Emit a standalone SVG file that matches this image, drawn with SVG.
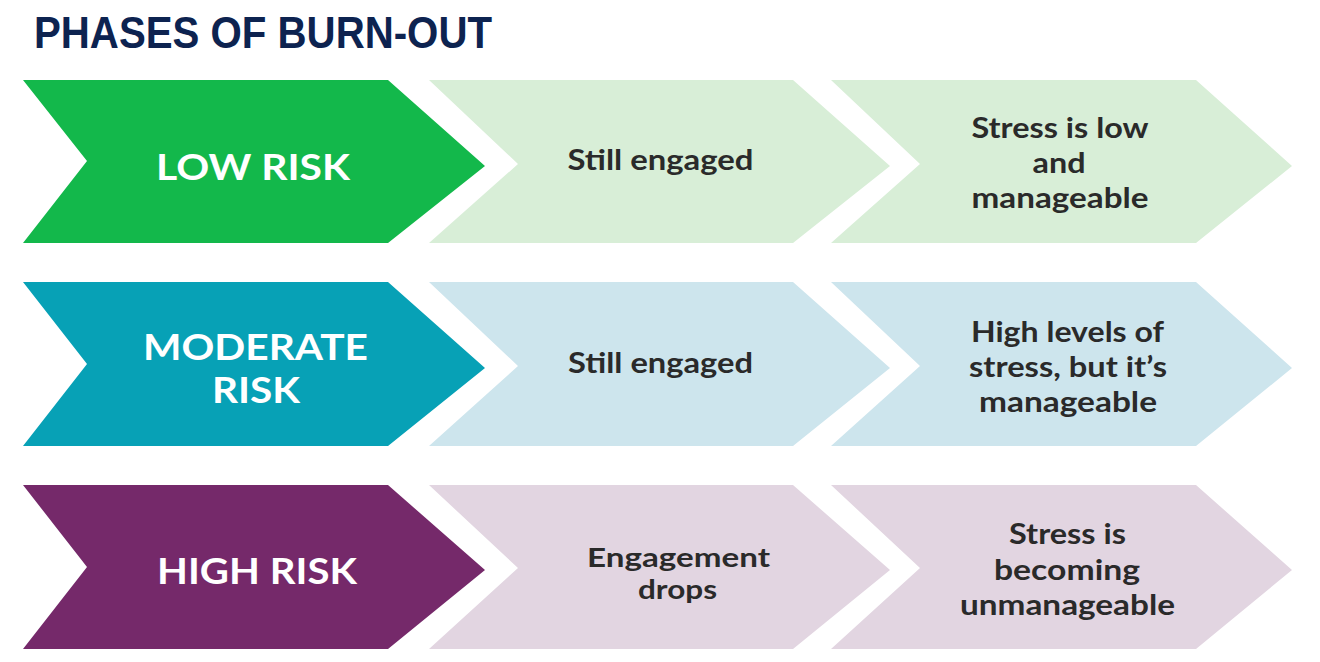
<svg xmlns="http://www.w3.org/2000/svg" width="1320" height="662" viewBox="0 0 1320 662">
<style>
.title{font-family:"Liberation Sans",Arial,sans-serif;font-weight:700;font-size:45px;fill:#0d2350}
.lbl{font-family:Lato,"Open Sans",sans-serif;font-weight:700;font-size:37px;fill:#ffffff;text-anchor:middle}
.lbl2{font-size:36px}
.txt{font-family:Lato,"Open Sans",sans-serif;font-weight:700;font-size:28px;fill:#2a2a2a;text-anchor:middle}
.sm{font-size:26px}
.g1{fill:#13b84b}.g2{fill:#d8eed7}
.t1{fill:#07a1b6}.t2{fill:#cde5ed}
.p1{fill:#75296a}.p2{fill:#e2d5e1}
</style>
<text class="title" x="34" y="48" textLength="458" lengthAdjust="spacingAndGlyphs">PHASES OF BURN-OUT</text>

<g id="low-risk">
<polygon class="g1" points="23,80 388,80 485,166 388,243 23,243 87,161"/>
<text class="lbl" x="253" y="179.5" textLength="194" lengthAdjust="spacingAndGlyphs">LOW RISK</text>
</g>
<g id="low-engagement">
<polygon class="g2" points="429,80 793,80 890,166 793,243 429,243 518,164"/>
<text class="txt" x="660.5" y="170" textLength="186" lengthAdjust="spacingAndGlyphs">Still engaged</text>
</g>
<g id="low-stress">
<polygon class="g2" points="831,80 1196,80 1292,166 1196,243 831,243 920,164"/>
<text class="txt" x="1060" y="138" textLength="177" lengthAdjust="spacingAndGlyphs">Stress is low</text>
<text class="txt" x="1059" y="172.5" textLength="53" lengthAdjust="spacingAndGlyphs">and</text>
<text class="txt" x="1060" y="208" textLength="177" lengthAdjust="spacingAndGlyphs">manageable</text>
</g>

<g id="moderate-risk">
<polygon class="t1" points="23,282 388,282 485,368 388,446 23,446 87,364"/>
<text class="lbl lbl2" x="255.5" y="359.5" textLength="225" lengthAdjust="spacingAndGlyphs">MODERATE</text>
<text class="lbl lbl2" x="256" y="403" textLength="88" lengthAdjust="spacingAndGlyphs">RISK</text>
</g>
<g id="moderate-engagement">
<polygon class="t2" points="429,282 793,282 890,368 793,446 429,446 518,366"/>
<text class="txt" x="660.5" y="373" textLength="185" lengthAdjust="spacingAndGlyphs">Still engaged</text>
</g>
<g id="moderate-stress">
<polygon class="t2" points="831,282 1196,282 1292,368 1196,446 831,446 920,366"/>
<text class="txt" x="1067.5" y="342" textLength="193" lengthAdjust="spacingAndGlyphs">High levels of</text>
<text class="txt" x="1068" y="377" textLength="198" lengthAdjust="spacingAndGlyphs">stress, but it’s</text>
<text class="txt" x="1068" y="412" textLength="178" lengthAdjust="spacingAndGlyphs">manageable</text>
</g>

<g id="high-risk">
<polygon class="p1" points="23,485 388,485 485,570 388,649 23,649 87,567"/>
<text class="lbl" x="257" y="584" textLength="200" lengthAdjust="spacingAndGlyphs">HIGH RISK</text>
</g>
<g id="high-engagement">
<polygon class="p2" points="429,485 793,485 890,570 793,649 429,649 518,568"/>
<text class="txt sm" x="678.5" y="566.5" textLength="183" lengthAdjust="spacingAndGlyphs">Engagement</text>
<text class="txt sm" x="677.5" y="598.5" textLength="79" lengthAdjust="spacingAndGlyphs">drops</text>
</g>
<g id="high-stress">
<polygon class="p2" points="831,485 1196,485 1292,570 1196,649 831,649 920,568"/>
<text class="txt" x="1067.5" y="544" textLength="117" lengthAdjust="spacingAndGlyphs">Stress is</text>
<text class="txt" x="1067" y="579.5" textLength="146" lengthAdjust="spacingAndGlyphs">becoming</text>
<text class="txt" x="1067.5" y="615" textLength="215" lengthAdjust="spacingAndGlyphs">unmanageable</text>
</g>
</svg>
